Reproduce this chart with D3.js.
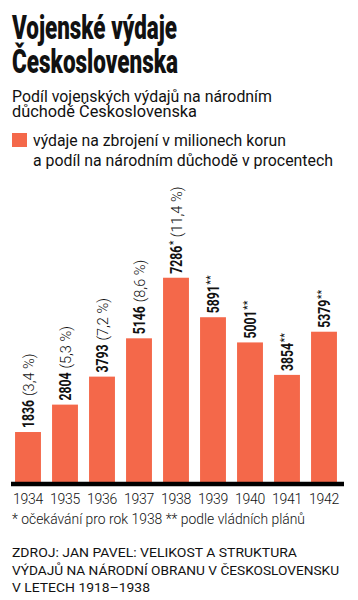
<!DOCTYPE html>
<html><head><meta charset="utf-8">
<script src="https://cdn.jsdelivr.net/npm/d3@7"></script>
<style>
html,body{margin:0;padding:0;background:#fff;}
svg{display:block;}
text{font-family:Roboto,"Liberation Sans",sans-serif;fill:#111;}
</style></head>
<body>
<svg id="c" width="358" height="600"></svg>
<script>
const years = ["1934","1935","1936","1937","1938","1939","1940","1941","1942"];
const spending = [1836, 2804, 3793, 5146, 7286, 5891, 5001, 3854, 5379];
const shares = ["3,4", "5,3", "7,2", "8,6", "11,4", null, null, null, null];
const marks = ["", "", "", "", "*", "**", "**", "**", "**"];

const titleLines = ["Vojenské výdaje", "Československa"];
const subtitleLines = ["Podíl vojenských výdajů na národním", "důchodě Československa"];
const legendLines = ["výdaje na zbrojení v milionech korun", "a podíl na národním důchodě v procentech"];
const footnote = "* očekávání pro rok 1938 ** podle vládních plánů";
const sourceLines = ["ZDROJ: JAN PAVEL: VELIKOST A STRUKTURA", "VÝDAJŮ NA NÁRODNÍ OBRANU V ČESKOSLOVENSKU", "V LETECH 1918–1938"];

const ORANGE = "#f4684a";
const svg = d3.select("#c");

// Title (one text block, two lines)
const titleW = [165, 166];
const tt = svg.append("text").attr("font-size", 34).attr("font-weight", 900);
titleLines.forEach((t, i) => {
  tt.append("tspan").attr("x", 12).attr("y", 39 + i * 34)
    .attr("textLength", titleW[i]).attr("lengthAdjust", "spacingAndGlyphs")
    .text(t);
});
// Subtitle
const subW = [260, 185];
const st = svg.append("text").attr("font-size", 16.5).attr("font-weight", 400);
subtitleLines.forEach((t, i) => {
  st.append("tspan").attr("x", 12).attr("y", 101.5 + i * 15.5)
    .attr("textLength", subW[i]).attr("lengthAdjust", "spacingAndGlyphs")
    .text(t);
});
// Legend
svg.append("rect").attr("x", 12).attr("y", 133).attr("width", 15).attr("height", 14).attr("fill", ORANGE);
const legW = [253, 300];
legendLines.forEach((t, i) => {
  svg.append("text").attr("x", 33).attr("y", 146 + i * 20)
    .attr("font-size", 16.5).attr("font-weight", 400)
    .attr("textLength", legW[i]).attr("lengthAdjust", "spacingAndGlyphs")
    .text(t);
});

// Scales
const x = d3.scaleBand().domain(years).range([9.5, 342.5]).paddingInner(0.3).paddingOuter(0.15);
const y = d3.scaleLinear().domain([0, 8000]).range([484, 484 - 8000 * 0.02831]);

// Bars
svg.append("g").selectAll("rect").data(years).join("rect")
  .attr("x", d => x(d)).attr("width", x.bandwidth())
  .attr("y", (d, i) => y(spending[i]))
  .attr("height", (d, i) => y(0) - y(spending[i]))
  .attr("fill", ORANGE);

// Baseline
svg.append("line").attr("x1", 11).attr("x2", 344).attr("y1", y(0)).attr("y2", y(0))
  .attr("stroke", "#000").attr("stroke-width", 4.5);

// Bar labels
const lab = svg.append("g").selectAll("g").data(years).join("g")
  .attr("transform", (d, i) => `translate(${x(d) + x.bandwidth() / 2 + 5.7},${y(spending[i]) - 4}) rotate(-90)`);
lab.append("text").attr("x", 0).attr("y", 0)
  .attr("font-size", 16).attr("font-weight", 700)
  .attr("textLength", (d, i) => String(spending[i]).length * 7)
  .attr("lengthAdjust", "spacingAndGlyphs")
  .text((d, i) => spending[i]);
lab.append("text").attr("x", (d, i) => String(spending[i]).length * 7 + 0.5).attr("y", -5)
  .attr("font-size", 11).attr("font-weight", 400)
  .text((d, i) => marks[i]);
lab.filter((d, i) => shares[i] !== null).append("text")
  .attr("x", (d, i) => String(spending[i]).length * 7 + (marks[i] ? marks[i].length * 4.6 : 0) + 4)
  .attr("y", 0)
  .attr("font-size", 14.5).attr("font-weight", 300)
  .text((d, i) => `(${shares[i]} %)`);

// X axis labels
const xAxis = d3.axisBottom(x).tickSize(0).tickPadding(0);
const ax = svg.append("g").attr("transform", `translate(0,494.3)`).call(xAxis);
ax.select(".domain").remove();
ax.selectAll("text").attr("font-size", 14).attr("font-family", "Roboto, sans-serif")
  .attr("font-weight", 300)
  .attr("fill", "#111").attr("letter-spacing", -0.3).attr("dy", "0.71em");

// Footnote
svg.append("text").attr("x", 12).attr("y", 524)
  .attr("font-size", 14.5).attr("font-weight", 300)
  .attr("textLength", 293).attr("lengthAdjust", "spacingAndGlyphs")
  .text(footnote);

// Source
const srcW = [285, 327, 138];
sourceLines.forEach((t, i) => {
  svg.append("text").attr("x", 12).attr("y", 557 + i * 17.5)
    .attr("font-family", "'DejaVu Sans Mono', monospace")
    .attr("font-size", 12).attr("font-weight", 400)
    .attr("textLength", srcW[i]).attr("lengthAdjust", "spacingAndGlyphs")
    .text(t);
});
</script>
</body></html>
